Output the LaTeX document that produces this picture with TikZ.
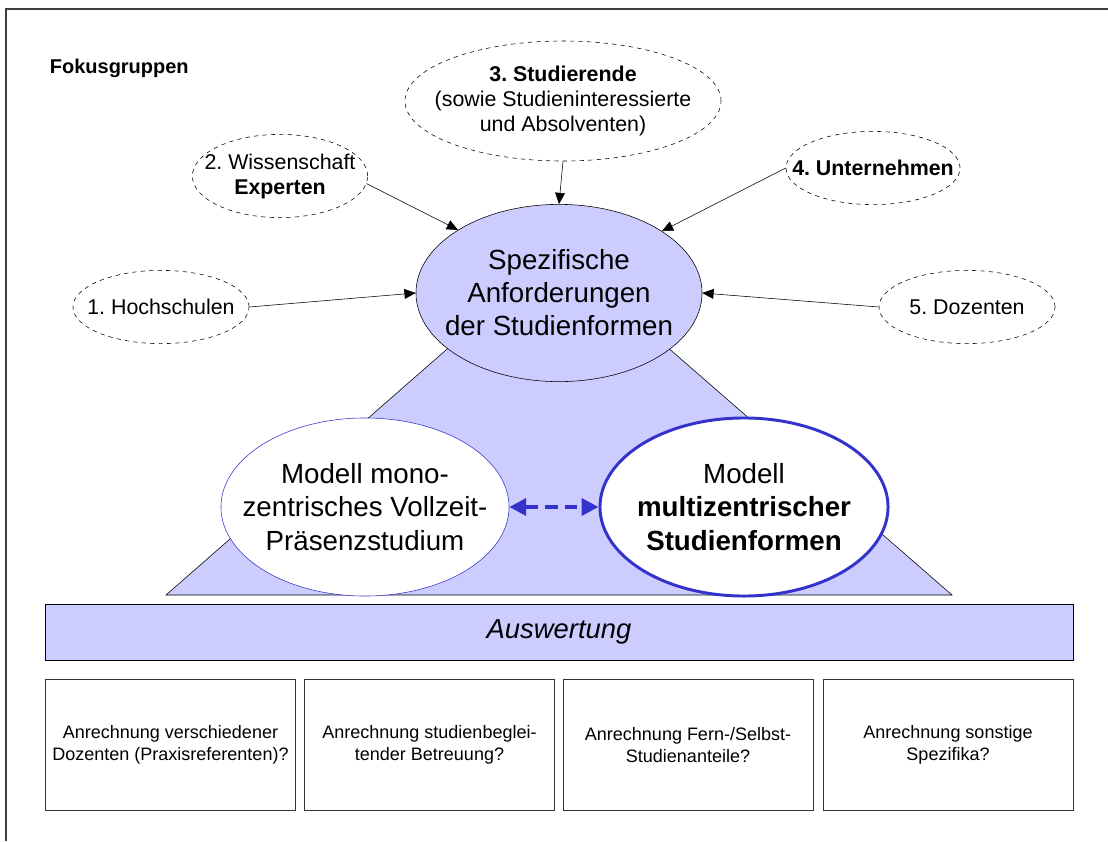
\documentclass[tikz,border=0pt]{standalone}
\usepackage{fontspec}
\setmainfont{Liberation Sans}
\usetikzlibrary{shapes.geometric,arrows.meta}
\definecolor{lila}{HTML}{CCCCFF}
\definecolor{blau}{HTML}{3333CC}
\frenchspacing

\begin{document}
\begin{tikzpicture}[x=0.025cm,y=-0.025cm,
    gruppe/.style={ellipse,draw,dashed,inner sep=-30pt,align=center,
      font=\fontsize{15.2}{17.8}\selectfont},
    spez/.style={ellipse,draw,fill=lila,inner sep=-30pt,align=center,
      minimum width=7.15cm,minimum height=4.43cm,
      font=\fontsize{19.7}{23.5}\selectfont},
    modell/.style={ellipse,draw=blau,fill=white,inner sep=-30pt,align=center,
      minimum width=7.2cm,minimum height=4.45cm,
      font=\fontsize{19.7}{23.8}\selectfont},
    pfeil/.style={-{Triangle[length=8pt,width=7pt]}},
    kasten/.style={draw=black!80,minimum width=6.25cm,minimum height=3.275cm,
      inner sep=0pt,align=center,font=\fontsize{12.8}{15.6}\selectfont}]

  \useasboundingbox (0,0) rectangle (1108,841);

  % frame
  \draw[line width=1.4pt,black!75] (6,841) -- (6,9) -- (1108,9);

  \node[anchor=base west,font=\bfseries\fontsize{14.2}{17}\selectfont] (titel) at (45,73) {Fokusgruppen};

  % triangle behind
  \draw[fill=lila] (558,252) -- (166,595) -- (952,595) -- cycle;

  \node[spez] (anf) at (559,293) {Spezifische\\Anforderungen\\der Studienformen};

  \node[gruppe,minimum width=4.4cm,minimum height=1.83cm] (hs) at (161,307) {1. Hochschulen};
  \node[gruppe,minimum width=4.38cm,minimum height=2.08cm] (wiss) at (280,176) {2. Wissenschaft\\\textbf{Experten}};
  \node[gruppe,minimum width=7.9cm,minimum height=3cm] (stud) at (563,101) {\textbf{3. Studierende}\\(sowie Studieninteressierte\\und Absolventen)};
  \node[gruppe,minimum width=4.35cm,minimum height=1.83cm] (unt) at (873,168) {\textbf{4. Unternehmen}};
  \node[gruppe,minimum width=4.4cm,minimum height=1.83cm] (doz) at (967,307) {5. Dozenten};

  \draw[pfeil] (hs.east) -- (anf.west);
  \draw[pfeil] (wiss.-5) -- (anf.148);
  \draw[pfeil] (stud.south) -- (anf.north);
  \draw[pfeil] (unt.west) -- (anf.31);
  \draw[pfeil] (doz.west) -- (anf.east);

  % models
  \node[modell] (mono) at (365,507) {Modell mono-\\zentrisches Vollzeit-\\Präsenzstudium};
  \node[modell,line width=2.1pt] (multi) at (744,507) {Modell\\\textbf{multizentrischer}\\\textbf{Studienformen}};
  \draw[blau,line width=2.8pt,dash pattern=on 9pt off 5pt,
    {Triangle[length=12pt,width=12pt]}-{Triangle[length=12pt,width=12pt]}] (mono.east) -- (multi.west);

  \node[draw,fill=lila,minimum width=25.7cm,minimum height=1.4cm,
    font=\itshape\fontsize{19.5}{23}\selectfont] (ausw) at (559,632) {Auswertung};

  \foreach \i/\x/\txt in {1/170.5/{Anrechnung verschiedener\\Dozenten (Praxisreferenten)?},
      2/429.5/{Anrechnung studienbeglei-\\tender Betreuung?},
      3/688/{Anrechnung Fern-/Selbst-\\Studienanteile?},
      4/948/{Anrechnung sonstige\\Spezifika?}}
    \node[kasten] (box\i) at (\x,745) {\txt};

\end{tikzpicture}
\end{document}
